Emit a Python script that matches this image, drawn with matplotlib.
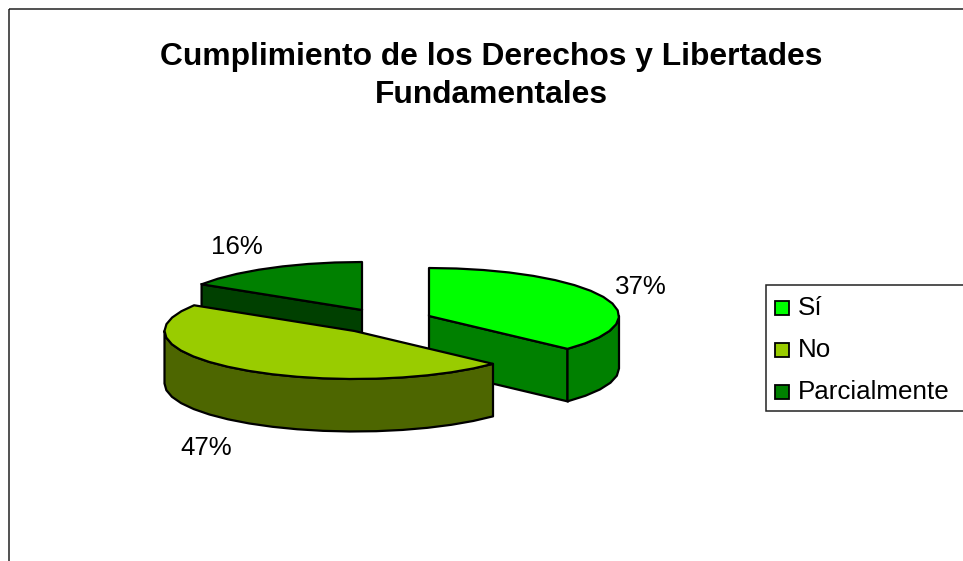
import numpy as np
import matplotlib
matplotlib.use("Agg")
import matplotlib.pyplot as plt
from matplotlib.patches import Polygon, Rectangle

plt.rcParams['font.family'] = ['Liberation Sans', 'DejaVu Sans']

title = "Cumplimiento de los Derechos y Libertades\nFundamentales"
categories = ["Sí", "No", "Parcialmente"]
values = [37, 47, 16]

top_colors = ["#00FF00", "#99CC00", "#008000"]
side_colors = ["#008000", "#4D6600", "#004000"]
centers = [(429, 316), (354.5, 331), (362, 310)]
label_pos = [(641, 286.5), (206, 447.5), (236.5, 246.5)]
RX, RY, DEPTH = 190, 48, 52.5
EDGE = "black"
LW = 1.6

fig = plt.figure(figsize=(9.63, 5.61), dpi=100)
ax = fig.add_axes([0, 0, 1, 1])
ax.set_xlim(0, 963)
ax.set_ylim(561, 0)
ax.axis("off")

# chart frame (right and bottom edges fall outside the picture)
ax.add_patch(Rectangle((9, 9), 1000, 600, fill=False, ec="#222222", lw=1.1, zorder=1))

ax.text(491, 76, title, ha="center", va="center", fontsize=22.9, fontweight="bold",
        linespacing=1.32, color="black")


def arc(c, t0, t1, dy=0.0):
    n = max(2, int(abs(t1 - t0) / 8) + 1)
    t = np.radians(np.linspace(t0, t1, n))
    return np.column_stack([c[0] + RX * np.sin(t), c[1] - RY * np.cos(t) + dy])


fracs = np.array(values, dtype=float) / sum(values)
ends = np.cumsum(fracs) * 360
starts = ends - fracs * 360


def radial_face(i, t, z):
    c = centers[i]
    p = arc(c, t, t)[0]
    ax.add_patch(Polygon([c, p, (p[0], p[1] + DEPTH), (c[0], c[1] + DEPTH)],
                         fc=side_colors[i], ec=EDGE, lw=LW, zorder=z))


def draw_top_and_rim(i, z):
    c, t0, t1 = centers[i], starts[i], ends[i]
    style = dict(ec=EDGE, lw=LW, joinstyle="round", zorder=z)
    # outer rim: only the front half of the ellipse shows
    a, b = max(t0, 90), min(t1, 270)
    if b > a:
        rim = np.vstack([arc(c, a, b), arc(c, b, a, DEPTH)])
        ax.add_patch(Polygon(rim, fc=side_colors[i], **style))
    ax.add_patch(Polygon(np.vstack([[c], arc(c, t0, t1)]), fc=top_colors[i], **style))


# back to front: Parcialmente, Sí, No
radial_face(2, starts[2], 2)
draw_top_and_rim(2, 3)
radial_face(0, ends[0], 4)
draw_top_and_rim(0, 4)
draw_top_and_rim(1, 5)

for v, (x, y) in zip(values, label_pos):
    ax.text(x, y, f"{v}%", ha="center", va="center", fontsize=18.6, color="black", zorder=6)

# legend
ax.add_patch(Rectangle((766, 285), 400, 126, fc="white", ec="#222222", lw=1.1, zorder=6))
for cat, col, y in zip(categories, top_colors, [307.5, 349.5, 391.5]):
    ax.add_patch(Rectangle((775, y - 7), 14, 14, fc=col, ec="black", lw=1.3, zorder=7))
    ax.text(798, y + 0.5, cat, ha="left", va="center", fontsize=18.7, color="black", zorder=7)

fig.savefig("out.png", dpi=100)
